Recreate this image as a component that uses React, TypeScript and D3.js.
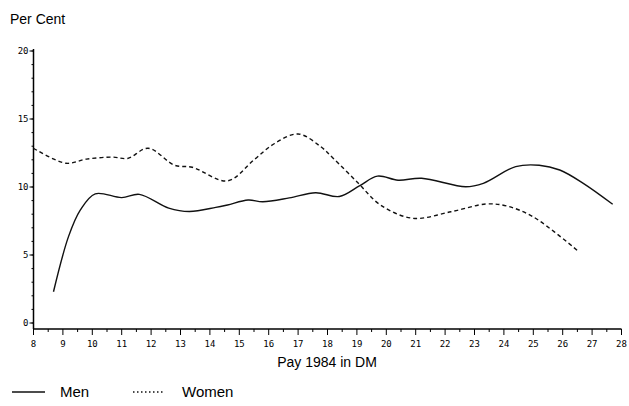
import React, { useRef, useEffect } from 'react';
import * as d3 from 'd3';

// values (pay in DM, per cent)
const menPay = [8.68, 9.19, 9.59, 10.1, 11.0, 11.6, 12.6, 13.3, 14.2, 14.6, 15.3, 15.8, 16.7, 17.6, 18.4, 19.1, 19.7, 20.4, 21.2, 22.7, 23.3, 24.4, 25.2, 25.9, 26.7, 27.7];
const menPct = [2.3, 6.35, 8.3, 9.5, 9.22, 9.46, 8.45, 8.2, 8.5, 8.68, 9.04, 8.92, 9.2, 9.58, 9.3, 10.1, 10.8, 10.5, 10.64, 10.02, 10.27, 11.5, 11.6, 11.25, 10.27, 8.73];

const womenPay = [8.0, 9.1, 9.8, 10.7, 11.2, 11.9, 12.8, 13.4, 14.6, 15.5, 16.2, 17.0, 17.75, 18.2, 19.05, 19.8, 20.9, 22.2, 23.4, 24.1, 25.0, 26.55];
const womenPct = [12.85, 11.75, 12.05, 12.2, 12.1, 12.85, 11.6, 11.45, 10.45, 12.0, 13.2, 13.9, 13.0, 12.1, 10.27, 8.68, 7.7, 8.18, 8.75, 8.6, 7.8, 5.24];

const xTicks = d3.range(8, 29, 1);
const yTicks = [0, 5, 10, 15, 20];

export default function App() {
    const svgRef = useRef(null);

    useEffect(() => {
        const svg = d3.select(svgRef.current);
        svg.selectAll('*').remove();

        const x = d3.scaleLinear().domain([8, 28]).range([33.5, 621.5]);
        const y = d3.scaleLinear().domain([0, 20]).range([323, 51]);
        const axisY = 329;
        const mono = "'DejaVu Sans Mono', monospace";
        const sans = "'Liberation Sans', Arial, sans-serif";

        // y axis
        svg.append('line')
            .attr('x1', x(8)).attr('x2', x(8))
            .attr('y1', y(20) - 2).attr('y2', axisY)
            .attr('stroke', '#000').attr('stroke-width', 1.5);
        svg.selectAll('.ymin')
            .data(d3.range(0, 21, 1))
            .enter().append('line')
            .attr('x1', x(8) - 2).attr('x2', x(8))
            .attr('y1', d => y(d)).attr('y2', d => y(d))
            .attr('stroke', '#000').attr('stroke-width', 1);
        svg.selectAll('.ymaj')
            .data(yTicks)
            .enter().append('line')
            .attr('x1', x(8) - 4).attr('x2', x(8))
            .attr('y1', d => y(d)).attr('y2', d => y(d))
            .attr('stroke', '#000').attr('stroke-width', 1);
        svg.selectAll('.ylab')
            .data(yTicks)
            .enter().append('text')
            .attr('x', x(8) - 5)
            .attr('y', d => y(d) + 3)
            .attr('text-anchor', 'end')
            .style('font-family', mono)
            .style('font-size', '9px')
            .text(d => d);

        // x axis
        svg.append('line')
            .attr('x1', x(8)).attr('x2', x(28))
            .attr('y1', axisY).attr('y2', axisY)
            .attr('stroke', '#000').attr('stroke-width', 1.5);
        svg.selectAll('.xmin')
            .data(d3.range(8.5, 28, 1))
            .enter().append('line')
            .attr('x1', d => x(d)).attr('x2', d => x(d))
            .attr('y1', axisY).attr('y2', axisY + 3)
            .attr('stroke', '#000').attr('stroke-width', 1);
        svg.selectAll('.xmaj')
            .data(xTicks)
            .enter().append('line')
            .attr('x1', d => x(d)).attr('x2', d => x(d))
            .attr('y1', axisY).attr('y2', axisY + 6)
            .attr('stroke', '#000').attr('stroke-width', 1);
        svg.selectAll('.xlab')
            .data(xTicks)
            .enter().append('text')
            .attr('x', d => x(d))
            .attr('y', 347)
            .attr('text-anchor', 'middle')
            .style('font-family', mono)
            .style('font-size', '9px')
            .text(d => d);

        // curves
        const line = d3.line()
            .x(d => x(d[0]))
            .y(d => y(d[1]))
            .curve(d3.curveCatmullRom.alpha(0.5));

        svg.append('path')
            .datum(d3.zip(menPay, menPct))
            .attr('fill', 'none')
            .attr('stroke', '#111')
            .attr('stroke-width', 1.4)
            .attr('d', line);

        svg.append('path')
            .datum(d3.zip(womenPay, womenPct))
            .attr('fill', 'none')
            .attr('stroke', '#111')
            .attr('stroke-width', 1.4)
            .attr('stroke-dasharray', '4,3')
            .attr('d', line);

        // texts
        svg.append('text')
            .attr('x', 10).attr('y', 24)
            .style('font-family', sans).style('font-size', '14px')
            .text('Per Cent');

        svg.append('text')
            .attr('x', 327).attr('y', 367)
            .attr('text-anchor', 'middle')
            .style('font-family', sans).style('font-size', '14px')
            .text('Pay 1984 in DM');

        // legend
        svg.append('line')
            .attr('x1', 12).attr('x2', 45).attr('y1', 392).attr('y2', 392)
            .attr('stroke', '#111').attr('stroke-width', 1.3);
        svg.append('text')
            .attr('x', 60).attr('y', 397)
            .style('font-family', sans).style('font-size', '15px')
            .text('Men');
        svg.append('line')
            .attr('x1', 133).attr('x2', 164).attr('y1', 392).attr('y2', 392)
            .attr('stroke', '#111').attr('stroke-width', 1.3)
            .attr('stroke-dasharray', '1.5,2.5');
        svg.append('text')
            .attr('x', 182).attr('y', 397)
            .style('font-family', sans).style('font-size', '15px')
            .text('Women');

        return () => {
            d3.select(svgRef.current).selectAll('*').remove();
        };
    }, []);

    return (
        <svg ref={svgRef} width={629} height={406}
            style={{ position: 'absolute', left: 0, top: 0, background: '#fff' }} />
    );
}
